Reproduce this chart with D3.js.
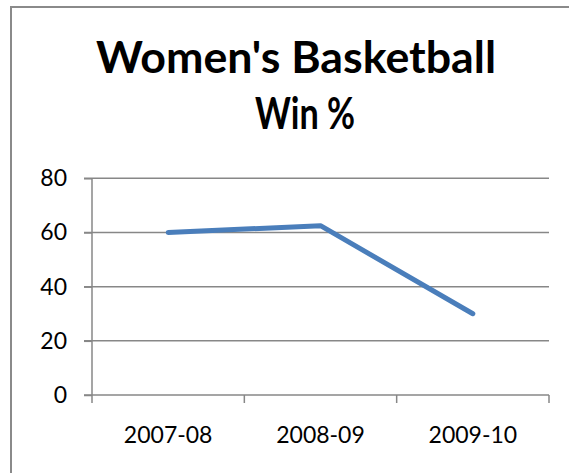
<!DOCTYPE html>
<html>
<head>
<meta charset="utf-8">
<script src="https://cdn.jsdelivr.net/npm/d3@7"></script>
<style>
  html, body { margin: 0; padding: 0; background: #fff; }
  svg { display: block; }
</style>
</head>
<body>
<div id="chart"></div>
<script>
var seasons = ['2007-08', '2008-09', '2009-10'];
var winPct = [60, 62.5, 30];
var yTicks = [0, 20, 40, 60, 80];
var titleLines = ["Women's Basketball", 'Win %'];

(function(d3) {
    'use strict';
    var width = 569, height = 473;
    var left = 92, right = 549, top = 178.3, bottom = 395;
    var axisColor = '#878787';
    var font = 'Lato, "Open Sans", sans-serif';

    var svg = d3.select('#chart').append('svg')
        .attr('width', width)
        .attr('height', height);

    svg.append('rect')
        .attr('width', width).attr('height', height)
        .attr('fill', '#fff');

    // chart area border (runs off the right and bottom)
    svg.append('rect')
        .attr('x', 11).attr('y', 7)
        .attr('width', 620).attr('height', 520)
        .attr('fill', 'none')
        .attr('stroke', '#8a8a8a')
        .attr('stroke-width', 2);

    // title
    var title = svg.append('text')
        .attr('font-family', font)
        .attr('font-weight', 'bold')
        .attr('font-size', 43)
        .attr('fill', '#000')
        .attr('text-anchor', 'middle');
    var lens = [400, 100];
    var bases = [73, 129];
    var cx = [296, 305];
    titleLines.forEach(function(t, i) {
        title.append('tspan')
            .attr('x', cx[i])
            .attr('y', bases[i])
            .attr('textLength', lens[i])
            .attr('lengthAdjust', 'spacingAndGlyphs')
            .text(t);
    });

    var x = d3.scaleBand().domain(seasons).range([left, right]);
    var y = d3.scaleLinear().domain([0, 80]).range([bottom, top]);

    // gridlines with outward ticks
    svg.append('g').selectAll('line')
        .data(yTicks.filter(function(d) { return d > 0; }))
        .enter().append('line')
        .attr('x1', left - 8).attr('x2', right)
        .attr('y1', function(d) { return y(d); })
        .attr('y2', function(d) { return y(d); })
        .attr('stroke', axisColor)
        .attr('stroke-width', 1.5);

    // y axis labels
    var yAxis = svg.append('g')
        .attr('transform', 'translate(' + left + ',0)')
        .call(d3.axisLeft(y).tickValues(yTicks).tickSize(8).tickPadding(17));
    yAxis.select('.domain').remove();
    yAxis.selectAll('line').attr('stroke', axisColor).attr('stroke-width', 1.5);
    yAxis.selectAll('text')
        .attr('font-family', font)
        .attr('font-size', 23)
        .attr('fill', '#000');

    // y axis line
    svg.append('line')
        .attr('x1', left).attr('x2', left)
        .attr('y1', top).attr('y2', bottom + 8)
        .attr('stroke', axisColor).attr('stroke-width', 1.5);

    // x axis line and boundary ticks
    svg.append('line')
        .attr('x1', left - 8).attr('x2', right)
        .attr('y1', bottom).attr('y2', bottom)
        .attr('stroke', axisColor).attr('stroke-width', 1.5);
    var bounds = seasons.map(function(s) { return x(s); }).concat([right]);
    svg.append('g').selectAll('line')
        .data(bounds.slice(1))
        .enter().append('line')
        .attr('x1', function(d) { return d; })
        .attr('x2', function(d) { return d; })
        .attr('y1', bottom).attr('y2', bottom + 8)
        .attr('stroke', axisColor).attr('stroke-width', 1.5);

    var xAxis = svg.append('g')
        .attr('transform', 'translate(0,' + bottom + ')')
        .call(d3.axisBottom(x).tickSize(0).tickPadding(32));
    xAxis.select('.domain').remove();
    xAxis.selectAll('text')
        .attr('font-family', font)
        .attr('font-size', 23)
        .attr('fill', '#000');

    // series line
    var line = d3.line()
        .x(function(d, i) { return x(seasons[i]) + x.bandwidth() / 2; })
        .y(function(d) { return y(d); });
    svg.append('path')
        .datum(winPct)
        .attr('d', line)
        .attr('fill', 'none')
        .attr('stroke', '#4a7ebb')
        .attr('stroke-width', 5)
        .attr('stroke-linecap', 'round')
        .attr('stroke-linejoin', 'round');
})(d3);
</script>
</body>
</html>
